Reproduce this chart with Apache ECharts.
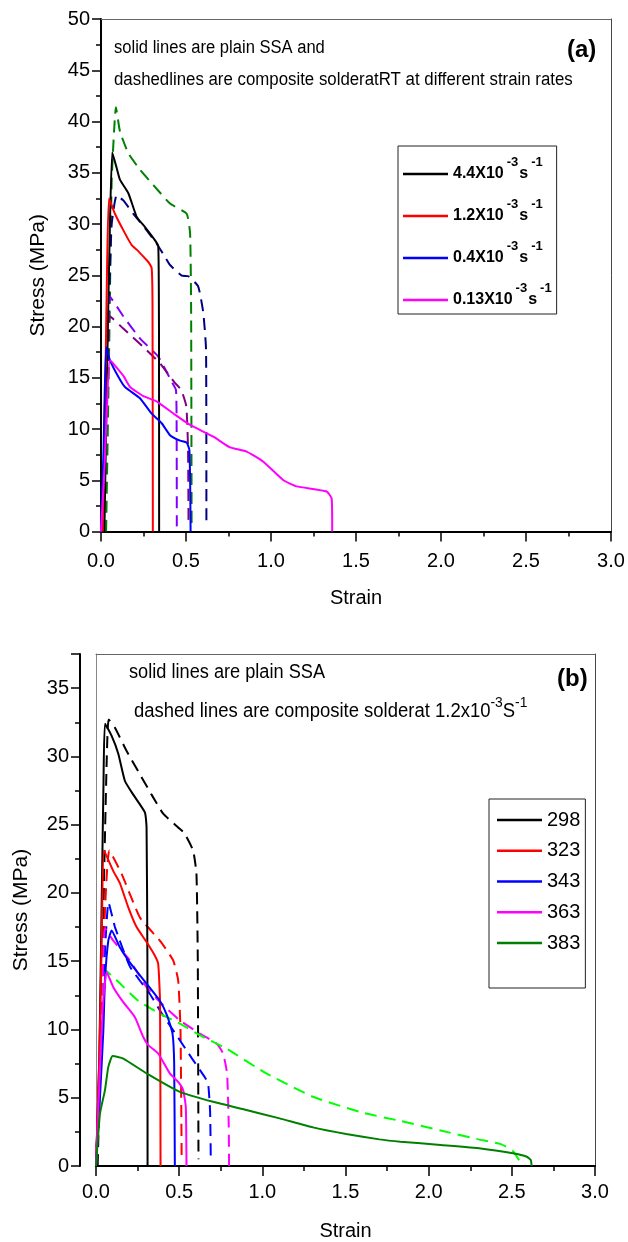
<!DOCTYPE html>
<html><head><meta charset="utf-8">
<script src="https://cdn.jsdelivr.net/npm/echarts@6/dist/echarts.min.js"></script>
<style>html,body{margin:0;padding:0;background:#fff}#c{width:628px;height:1242px}</style>
</head><body><div id="c"></div>
<script>
// ---------- Panel (a): strain-rate series ----------
const A_NAMES = ['4.4X10-3s-1', '1.2X10-3s-1', '0.4X10-3s-1', '0.13X10-3s-1'];
const A_LEGEND_MAIN = ['4.4X10', '1.2X10', '0.4X10', '0.13X10'];
const A_COLORS = ['#000000', '#ff0000', '#0000ff', '#ff00ff'];
const A_DASH_COLORS = ['#008000', '#000080', '#8000ff', '#800080'];

const A_SOLID_44 = [[0.02,0],[0.035,15],[0.05,28],[0.066,37.0],[0.09,35.6],[0.112,34.3],[0.161,33.0],[0.21,30.7],[0.259,29.7],[0.318,28.4],[0.337,27.8],[0.341,20],[0.342,0]];
const A_SOLID_12 = [[0.01,0],[0.025,14],[0.035,25],[0.047,32.5],[0.082,31.0],[0.131,29.4],[0.18,27.95],[0.21,27.5],[0.259,26.65],[0.278,26.3],[0.298,25.7],[0.303,22],[0.305,0]];
const A_SOLID_04 = [[0,0],[0.015,8],[0.03,18.0],[0.053,16.7],[0.102,15.1],[0.141,14.1],[0.229,13.0],[0.298,11.5],[0.357,10.56],[0.406,9.4],[0.465,8.86],[0.504,8.67],[0.52,7.95],[0.525,4],[0.527,0]];
const A_SOLID_013 = [[0,0],[0.02,6],[0.035,12],[0.053,16.7],[0.131,15.2],[0.171,14.1],[0.249,13.2],[0.327,12.7],[0.435,11.4],[0.524,10.4],[0.661,9.25],[0.759,8.2],[0.857,7.8],[0.955,6.8],[1.073,5.0],[1.151,4.4],[1.327,3.9],[1.357,3.2],[1.36,0]];
const A_DASH_44 = [[0.03,0],[0.05,20],[0.063,34.3],[0.088,41.4],[0.112,39.0],[0.161,36.9],[0.229,35.3],[0.308,33.8],[0.406,32.0],[0.504,31.0],[0.524,29.1],[0.53,22],[0.533,0.8]];
const A_DASH_12 = [[0.01,0],[0.03,12],[0.05,24],[0.063,30],[0.092,32.8],[0.131,32.3],[0.19,31.0],[0.268,29.4],[0.327,28.1],[0.376,26.8],[0.406,26.0],[0.475,24.96],[0.514,24.9],[0.572,23.9],[0.602,21.3],[0.618,17.7],[0.62,0.8]];
const A_DASH_04 = [[0,0],[0.02,8],[0.04,17],[0.053,22.9],[0.131,21.0],[0.229,18.85],[0.337,17.05],[0.416,14.6],[0.441,13.8],[0.445,10],[0.446,0.5]];
const A_DASH_013 = [[0,0],[0.02,7],[0.04,16],[0.053,21.0],[0.131,19.8],[0.249,18.0],[0.347,16.4],[0.435,14.5],[0.472,13.8],[0.502,12.2],[0.512,8],[0.515,0.5]];

// ---------- Panel (b): temperature series ----------
const B_NAMES = ['298', '323', '343', '363', '383'];
const B_COLORS = ['#000000', '#ff0000', '#0000ff', '#ff00ff', '#008000'];
const B_DASH_COLORS = ['#000000', '#ff0000', '#0000ff', '#ff00ff', '#00ff00'];

const B_SOLID_298 = [[0,0],[0.02,8],[0.035,20],[0.045,28],[0.054,32.4],[0.094,31.5],[0.134,30.2],[0.174,28.2],[0.224,27.2],[0.294,25.9],[0.304,24.8],[0.309,15],[0.31,0]];
const B_SOLID_323 = [[0,0],[0.02,8],[0.035,17],[0.048,23.1],[0.104,21.6],[0.144,20.7],[0.194,18.95],[0.244,17.5],[0.304,16.4],[0.354,15.4],[0.374,14.8],[0.385,12],[0.388,0]];
const B_SOLID_343 = [[0,0],[0.024,5.07],[0.044,9.9],[0.054,13.6],[0.074,16.5],[0.094,17.25],[0.144,16.0],[0.204,14.9],[0.304,13.36],[0.384,12.1],[0.428,11.0],[0.46,9.7],[0.47,7.5],[0.474,0]];
const B_SOLID_363 = [[0,0],[0.02,6],[0.04,11.5],[0.064,14.2],[0.104,13.1],[0.164,12.0],[0.234,10.9],[0.284,9.45],[0.314,8.85],[0.374,8.24],[0.444,6.78],[0.494,6.16],[0.524,5.56],[0.54,4.3],[0.544,0]];
const B_SOLID_383 = [[0,0],[0.024,3.85],[0.054,5.56],[0.074,7.26],[0.1,8.05],[0.164,7.87],[0.304,6.78],[0.504,5.43],[0.704,4.7],[0.904,4.1],[1.104,3.49],[1.304,2.83],[1.504,2.34],[1.704,1.95],[1.831,1.78],[2.072,1.54],[2.313,1.29],[2.506,0.93],[2.59,0.68],[2.614,0.44],[2.619,0]];
const B_DASH_298 = [[0.01,0],[0.03,10],[0.05,22],[0.065,30],[0.076,32.7],[0.114,32.1],[0.184,30.4],[0.254,28.9],[0.334,27.2],[0.404,25.8],[0.494,24.8],[0.53,24.4],[0.584,23.1],[0.604,21.4],[0.612,15],[0.616,0.5]];
const B_DASH_323 = [[0,0],[0.03,10],[0.055,19],[0.08,23.1],[0.154,21.4],[0.264,18.2],[0.384,16.5],[0.464,15.06],[0.494,13.6],[0.508,10],[0.515,0.5]];
const B_DASH_343 = [[0,0],[0.03,8],[0.055,16],[0.075,19.3],[0.114,17.5],[0.204,14.6],[0.324,12.6],[0.394,11.2],[0.464,9.94],[0.584,7.75],[0.654,6.5],[0.674,6.05],[0.686,4],[0.69,0.5]];
const B_DASH_363 = [[0,0],[0.02,7],[0.04,14],[0.054,17.4],[0.104,16.5],[0.204,15.06],[0.304,13.1],[0.404,11.77],[0.504,10.67],[0.624,9.7],[0.724,8.97],[0.764,8.24],[0.788,6.78],[0.798,3],[0.8,0]];
const B_DASH_383 = [[0,0],[0.02,6],[0.04,11],[0.06,14.3],[0.124,13.6],[0.254,12.1],[0.384,11.16],[0.504,10.43],[0.624,9.58],[0.784,8.6],[1.024,6.78],[1.304,5.07],[1.604,3.9],[1.831,3.3],[2.072,2.6],[2.3,1.95],[2.434,1.6],[2.506,1.1],[2.566,0]];

const A_SOLIDS = [A_SOLID_44, A_SOLID_12, A_SOLID_04, A_SOLID_013];
const A_DASHES = [A_DASH_44, A_DASH_12, A_DASH_04, A_DASH_013];
const B_SOLIDS = [B_SOLID_298, B_SOLID_323, B_SOLID_343, B_SOLID_363, B_SOLID_383];
const B_DASHES = [B_DASH_298, B_DASH_323, B_DASH_343, B_DASH_363, B_DASH_383];

const FONT = '"Liberation Sans", Arial, sans-serif';

function line(name, data, color, dashed, xi, yi) {
  return {
    type: 'line', name: name, data: data, xAxisIndex: xi, yAxisIndex: yi,
    showSymbol: false, symbol: 'none', smooth: 0.15,
    lineStyle: { color: color, width: 2, type: dashed ? [12, 7] : 'solid' },
    itemStyle: { color: color }, z: dashed ? 2 : 3, animation: false
  };
}

const series = [];
A_DASHES.forEach((d, i) => series.push(line('a-composite-' + i, d, A_DASH_COLORS[i], true, 0, 0)));
A_SOLIDS.forEach((d, i) => series.push(line(A_NAMES[i], d, A_COLORS[i], false, 0, 0)));
B_DASHES.forEach((d, i) => series.push(line('b-composite-' + B_NAMES[i], d, B_DASH_COLORS[i], true, 2, 2)));
B_SOLIDS.forEach((d, i) => series.push(line(B_NAMES[i], d, B_COLORS[i], false, 2, 2)));

function mainX(grid, gap, margin) {
  return {
    type: 'value', gridIndex: grid, position: 'bottom', min: 0, max: 3, interval: 0.5,
    name: 'Strain', nameLocation: 'middle', nameGap: gap,
    nameTextStyle: { fontFamily: FONT, fontSize: 20, color: '#000' },
    axisLine: { show: true, onZero: false, lineStyle: { color: '#000', width: 2 } },
    axisTick: { show: true, inside: false, length: 10, lineStyle: { color: '#000', width: 1.5 } },
    minorTick: { show: true, splitNumber: 2, length: 5, lineStyle: { color: '#000', width: 1.5 } },
    axisLabel: { margin: margin, fontFamily: FONT, fontSize: 20, color: '#000', formatter: v => v.toFixed(1) },
    splitLine: { show: false }, minorSplitLine: { show: false }
  };
}
function frameAxis(type, grid, pos, min, max, color, offset) {
  return {
    type: 'value', gridIndex: grid, position: pos, min: min, max: max, offset: offset || 0,
    axisLine: { show: true, onZero: false, lineStyle: { color: color, width: 1 } },
    axisTick: { show: false }, axisLabel: { show: false }, splitLine: { show: false }
  };
}
function mainY(grid, max, offset, gap) {
  return {
    type: 'value', gridIndex: grid, position: 'left', min: 0, max: max, interval: 5, offset: offset,
    name: 'Stress (MPa)', nameLocation: 'middle', nameGap: gap, nameRotate: 90,
    nameTextStyle: { fontFamily: FONT, fontSize: 21, color: '#000' },
    axisLine: { show: true, onZero: false, lineStyle: { color: '#000', width: 2 } },
    axisTick: { show: true, inside: false, length: 9, lineStyle: { color: '#000', width: 1.5 } },
    minorTick: { show: true, splitNumber: 2, length: 5, lineStyle: { color: '#000', width: 1.5 } },
    axisLabel: { margin: 11, fontFamily: FONT, fontSize: 20, color: '#000', showMaxLabel: max % 5 === 0,
      formatter: v => (v % 5 === 0 ? String(v) : '') },
    splitLine: { show: false }, minorSplitLine: { show: false }
  };
}

const option = {
  backgroundColor: '#fff',
  animation: false,
  grid: [
    { left: 101, right: 17, top: 19, bottom: 710.5, outerBoundsMode: 'none', containLabel: false },
    { left: 96, right: 33, top: 654, bottom: 76, outerBoundsMode: 'none', containLabel: false }
  ],
  xAxis: [
    mainX(0, 57, 20),
    frameAxis('x', 0, 'top', 0, 3, '#666'),
    mainX(1, 55, 16),
    frameAxis('x', 1, 'top', 0, 3, '#666')
  ],
  yAxis: [
    mainY(0, 50, 0, 52),
    frameAxis('y', 0, 'right', 0, 50, '#444'),
    mainY(1, 37.5, 16, 48),
    frameAxis('y', 1, 'left', 0, 37.5, '#888'),
    frameAxis('y', 1, 'right', 0, 37.5, '#444')
  ],
  legend: [
    {
      data: A_NAMES, orient: 'vertical', left: 398, top: 146, padding: [10, 4, 6, 5],
      itemGap: 16, itemWidth: 45, itemHeight: 2.5, icon: 'rect', selectedMode: false,
      borderColor: '#222', borderWidth: 1,
      formatter: name => '{b|' + A_LEGEND_MAIN[A_NAMES.indexOf(name)] + '}{s|-3}{b|s}{s|-1}',
      textStyle: {
        fontFamily: FONT, fontSize: 16, fontWeight: 'bold', color: '#000',
        rich: {
          b: { fontFamily: FONT, fontSize: 16, fontWeight: 'bold', lineHeight: 36, color: '#000' },
          s: { fontFamily: FONT, fontSize: 13, fontWeight: 'bold', lineHeight: 16, verticalAlign: 'top', color: '#000', padding: [0, 1, 0, 3] }
        }
      }
    },
    {
      data: B_NAMES, orient: 'vertical', left: 489, top: 799, padding: [9, 5, 33, 8],
      itemGap: 6.75, itemWidth: 45, itemHeight: 2.5, icon: 'rect', selectedMode: false,
      borderColor: '#222', borderWidth: 1,
      textStyle: { fontFamily: FONT, fontSize: 20, lineHeight: 24, color: '#000' }
    }
  ],
  graphic: [
    { type: 'text', x: 114, y: 48, scaleX: 0.92, z: 100,
      style: { text: 'solid lines are plain SSA and', font: '18px ' + FONT, fill: '#000', align: 'left', verticalAlign: 'middle' } },
    { type: 'text', x: 114, y: 80, scaleX: 0.935, z: 100,
      style: { text: 'dashedlines are composite solderatRT at different strain rates', font: '18px ' + FONT, fill: '#000', align: 'left', verticalAlign: 'middle' } },
    { type: 'text', x: 567, y: 50, z: 100,
      style: { text: '(a)', font: 'bold 24px ' + FONT, fill: '#000', align: 'left', verticalAlign: 'middle' } },
    { type: 'text', x: 129, y: 672, scaleX: 0.909, z: 100,
      style: { text: 'solid lines are plain SSA', font: '20px ' + FONT, fill: '#000', align: 'left', verticalAlign: 'middle' } },
    { type: 'text', x: 134, y: 711, scaleX: 0.924, z: 100,
      style: {
        text: '{n|dashed lines are composite solderat 1.2x10}{s|-3}{n|S}{s|-1}',
        fill: '#000', align: 'left', verticalAlign: 'middle',
        rich: {
          n: { fontSize: 20, fontFamily: FONT, lineHeight: 32, fill: '#000' },
          s: { fontSize: 15, fontFamily: FONT, lineHeight: 16, verticalAlign: 'top', fill: '#000' }
        }
      } },
    { type: 'text', x: 557, y: 679, z: 100,
      style: { text: '(b)', font: 'bold 24px ' + FONT, fill: '#000', align: 'left', verticalAlign: 'middle' } }
  ],
  series: series
};

const chart = echarts.init(document.getElementById('c'), null, { renderer: 'canvas' });
chart.setOption(option);
</script></body></html>
